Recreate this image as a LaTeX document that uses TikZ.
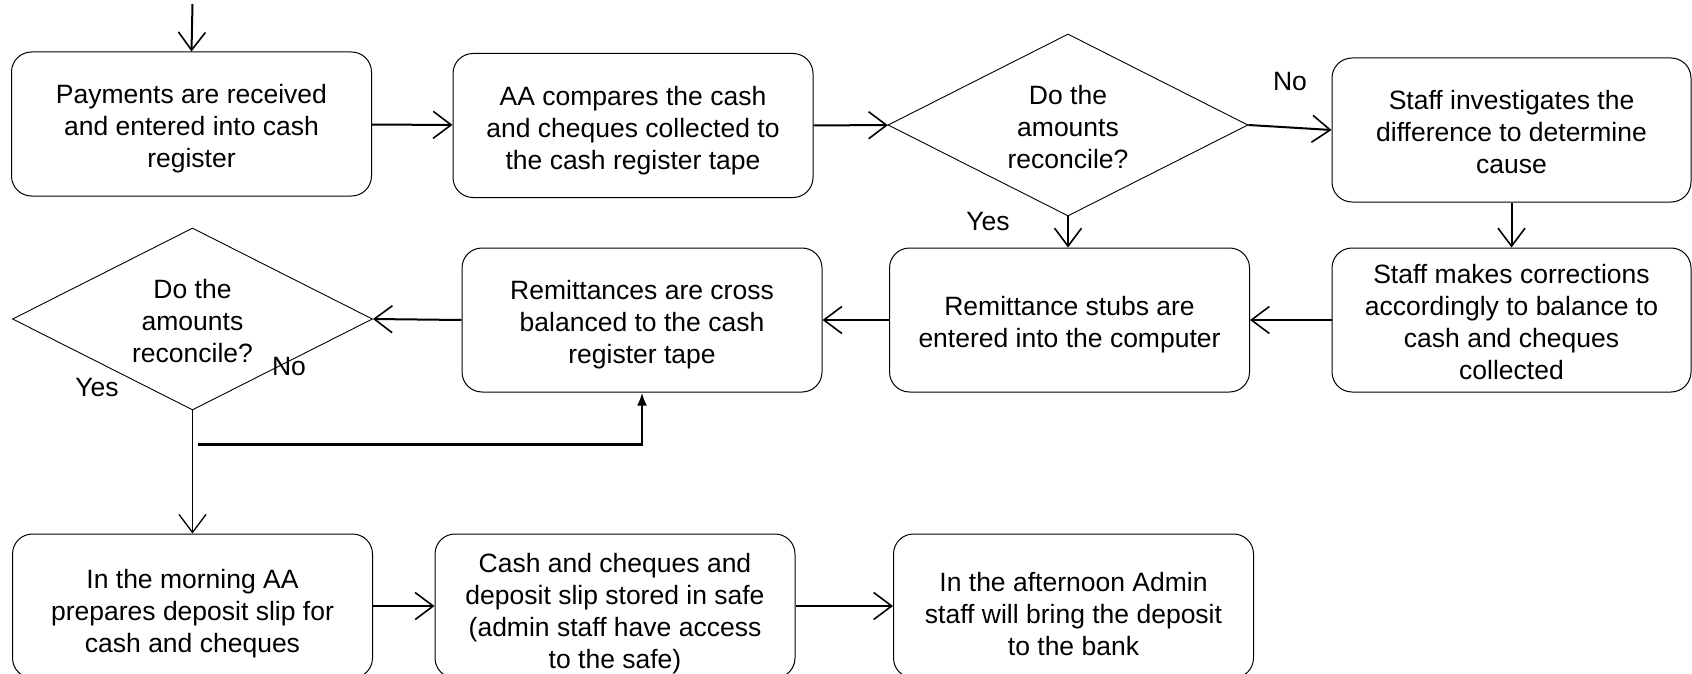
\documentclass[tikz,border=0pt]{standalone}
\usepackage{fontspec}
\setmainfont{Liberation Sans}
\usetikzlibrary{shapes.geometric,arrows.meta,calc}

% strut that sets the height of a node's first line, moving its text down
\newcommand{\firstline}[1]{\rule{0pt}{#1}}

\begin{document}
\begin{tikzpicture}[x=1pt,y=-1pt,
  every node/.style={font=\fontsize{26.5}{32}\selectfont},
  stepbox/.style={draw, line width=1pt, rounded corners=20pt,
    minimum width=360pt, minimum height=144pt, align=center, inner sep=0pt},
  decision/.style={draw, diamond, line width=0.9pt, aspect=2,
    minimum width=360pt, minimum height=182pt, inner sep=0pt, align=center},
  flow/.style={line width=2pt,
    -{Straight Barb[length=18pt,width=27pt,line width=1.6pt]}},
  thinflow/.style={line width=1.3pt,
    -{Straight Barb[length=18pt,width=27pt,line width=1.3pt]}},
  backflow/.style={line width=2.6pt, -{Latex[length=13pt,width=10pt]}},
  lbl/.style={inner sep=0pt}
]
\clip (0,0) rectangle (1692,674);

% top row
\node[stepbox] (pay) at (191.5,124) {\firstline{28.5pt}Payments are received\\and entered into cash\\register};
\node[stepbox] (cmp) at (633,125.5) {\firstline{28.5pt}AA compares the cash\\and cheques collected to\\the cash register tape};
\node[decision] (d1) at (1068,125) {\firstline{23.5pt}Do the\\amounts\\reconcile?};
\node[stepbox, minimum width=359pt] (inv) at (1511.5,130) {\firstline{23.5pt}Staff investigates the\\difference to determine\\cause};

% middle row
\node[stepbox, minimum width=359pt] (fix) at (1511.5,320) {\firstline{23.5pt}Staff makes corrections\\accordingly to balance to\\cash and cheques\\collected};
\node[stepbox] (stub) at (1069.5,320) {\firstline{28.5pt}Remittance stubs are\\entered into the computer};
\node[stepbox] (rem) at (642,320) {\firstline{28.5pt}Remittances are cross\\balanced to the cash\\register tape};
\node[decision] (d2) at (192.5,319) {\firstline{23.5pt}Do the\\amounts\\reconcile?};

% bottom row
\node[stepbox] (morn) at (192.5,606) {\firstline{34.5pt}In the morning AA\\prepares deposit slip for\\cash and cheques};
\node[stepbox] (safe) at (615,606) {\firstline{34.5pt}Cash and cheques and\\deposit slip stored in safe\\(admin staff have access\\to the safe)};
\node[stepbox] (bank) at (1073.5,606) {\firstline{34.5pt}In the afternoon Admin\\staff will bring the deposit\\to the bank};

% branch labels
\node[lbl] (no1) at (1290,82) {No};
\node[lbl] (yes1) at (988,222) {Yes};
\node[lbl] (no2) at (289,367) {No};
\node[lbl] (yes2) at (97,388) {Yes};

% connectors
\coordinate (start) at (192.5,4);
\draw[flow] (start) -- (pay.north);
\draw[flow] (pay) -- (cmp);
\draw[flow] (cmp) -- (d1);
\draw[flow] (d1.east) -- (inv.west);
\draw[flow] (d1.south) -- (d1.south |- stub.north);
\draw[flow] (inv.south) -- (fix.north);
\draw[flow] (fix) -- (stub);
\draw[flow] (stub) -- (rem);
\draw[flow] (rem.west) -- (d2.east);
\draw[thinflow] (d2.south) -- (morn.north);
\coordinate (split) at ($(d2.south)+(5,34)$);
\draw[backflow] (split) -- (split -| rem.south) -- (rem.south);
\draw[flow] (morn) -- (safe);
\draw[flow] (safe) -- (bank);
\end{tikzpicture}
\end{document}
